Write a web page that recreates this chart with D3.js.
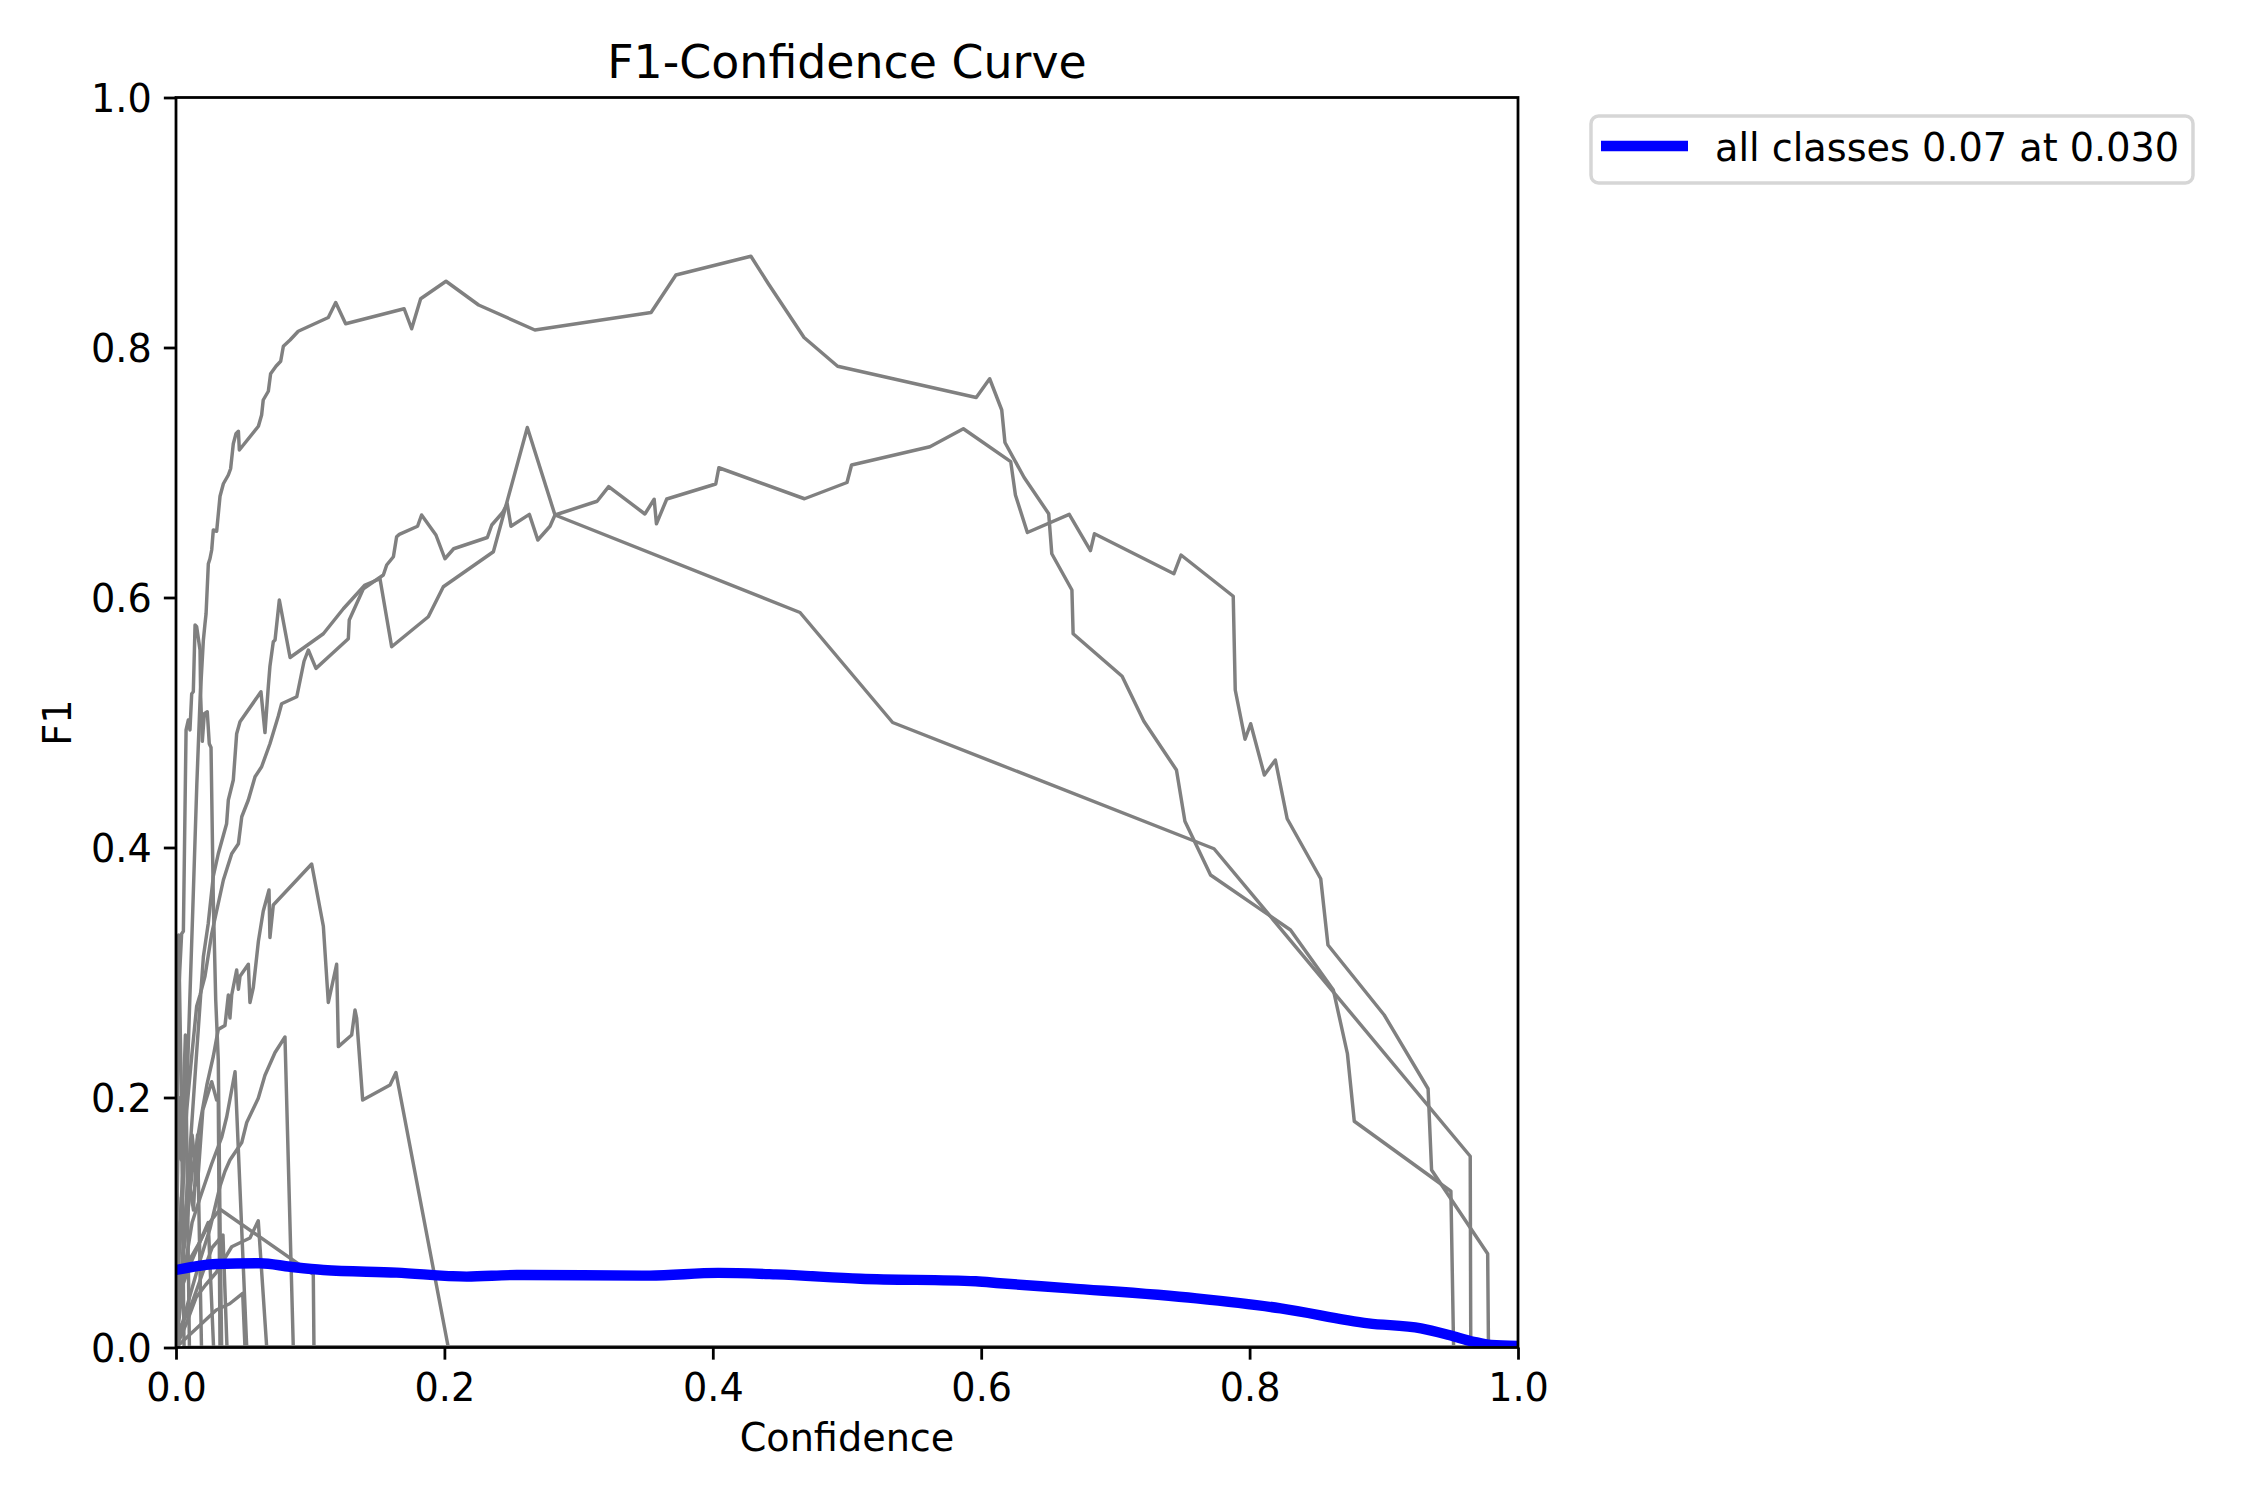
<!DOCTYPE html>
<html><head><meta charset="utf-8">
<script src="https://cdn.jsdelivr.net/npm/d3@7"></script>
<style>
body{margin:0;background:#fff}
svg{display:block}
text{font-family:"DejaVu Sans",sans-serif;fill:#000}
</style>
</head><body>
<svg id="chart" width="2250" height="1500"></svg>
<script>
// ---------------- data ----------------
const xTicks = [0, 0.2, 0.4, 0.6, 0.8, 1.0];
const yTicks = [0, 0.2, 0.4, 0.6, 0.8, 1.0];
const titleText = "F1-Confidence Curve";
const xLabelText = "Confidence";
const yLabelText = "F1";
const legendLabel = "all classes 0.07 at 0.030";

// per-class curves: [confidence, F1]
const classA = [[0,0.05],[0.005,0.12],[0.0085,0.22],[0.0125,0.35],[0.0155,0.45],[0.018,0.52],[0.0204,0.566],[0.0216,0.579],[0.0224,0.587],[0.0241,0.627],[0.0253,0.631],[0.0266,0.638],[0.0278,0.654],[0.0303,0.653],[0.0328,0.681],[0.0353,0.691],[0.039,0.698],[0.0407,0.703],[0.0427,0.723],[0.0447,0.731],[0.0465,0.733],[0.0472,0.718],[0.0614,0.737],[0.0638,0.746],[0.065,0.758],[0.0688,0.765],[0.0705,0.779],[0.0745,0.785],[0.078,0.789],[0.080,0.801],[0.085,0.806],[0.0911,0.813],[0.1135,0.824],[0.119,0.836],[0.1264,0.819],[0.170,0.831],[0.1756,0.815],[0.1823,0.839],[0.2012,0.853],[0.2255,0.834],[0.2674,0.814],[0.354,0.828],[0.3725,0.858],[0.4284,0.873],[0.4414,0.851],[0.468,0.808],[0.493,0.785],[0.5963,0.760],[0.6063,0.775],[0.6153,0.750],[0.6177,0.724],[0.632,0.696],[0.6503,0.667],[0.6526,0.635],[0.6676,0.606],[0.6685,0.571],[0.705,0.537],[0.7212,0.501],[0.7455,0.462],[0.7518,0.421],[0.7709,0.378],[0.8305,0.334],[0.8624,0.286],[0.8729,0.235],[0.878,0.181],[0.95,0.125],[0.952,0],[1,0]];
const classB = [[0,0.0],[0.008,0.12],[0.015,0.23],[0.0204,0.3126],[0.024,0.339],[0.0278,0.377],[0.0315,0.395],[0.0377,0.419],[0.039,0.438],[0.0427,0.454],[0.0452,0.491],[0.0477,0.5006],[0.0633,0.5246],[0.0663,0.492],[0.0688,0.529],[0.07,0.545],[0.0725,0.5646],[0.0738,0.566],[0.077,0.598],[0.085,0.552],[0.1098,0.571],[0.1247,0.591],[0.1408,0.61],[0.152,0.615],[0.1607,0.5606],[0.188,0.5846],[0.1992,0.6086],[0.2365,0.6366],[0.2618,0.736],[0.2824,0.666],[0.465,0.588],[0.534,0.5],[0.7735,0.399],[0.9644,0.153],[0.9648,0],[1,0]];
const classC = [[0,0.02],[0.004,0.12],[0.008,0.19],[0.0117,0.233],[0.0154,0.273],[0.0179,0.282],[0.0216,0.297],[0.0266,0.331],[0.0353,0.374],[0.0415,0.395],[0.0465,0.403],[0.049,0.4246],[0.0539,0.438],[0.0589,0.4566],[0.0638,0.4646],[0.07,0.483],[0.0762,0.505],[0.0787,0.515],[0.09,0.5206],[0.0954,0.549],[0.0986,0.558],[0.1043,0.5433],[0.116,0.5548],[0.1284,0.567],[0.1291,0.582],[0.1396,0.607],[0.1545,0.618],[0.157,0.626],[0.162,0.6326],[0.1644,0.6486],[0.1664,0.6505],[0.180,0.657],[0.183,0.666],[0.1937,0.65],[0.2004,0.631],[0.2069,0.639],[0.232,0.648],[0.2353,0.658],[0.2434,0.668],[0.2468,0.675],[0.2496,0.657],[0.2633,0.6665],[0.2696,0.646],[0.2787,0.657],[0.2824,0.666],[0.3138,0.677],[0.3224,0.6887],[0.3494,0.6668],[0.3563,0.6786],[0.358,0.659],[0.3657,0.6788],[0.4022,0.6908],[0.4045,0.7038],[0.4683,0.679],[0.5,0.692],[0.5034,0.706],[0.5618,0.7206],[0.5867,0.735],[0.622,0.7087],[0.6255,0.682],[0.6344,0.652],[0.6656,0.6665],[0.6814,0.6375],[0.6844,0.651],[0.7436,0.619],[0.7489,0.634],[0.7878,0.601],[0.7893,0.526],[0.7966,0.4866],[0.8008,0.499],[0.811,0.458],[0.8192,0.47],[0.828,0.423],[0.853,0.375],[0.8584,0.322],[0.9003,0.266],[0.933,0.207],[0.9356,0.142],[0.9774,0.075],[0.978,0],[1,0]];
const classE = [[0,0.05],[0.0017,0.278],[0.0042,0.331],[0.0055,0.333],[0.0075,0.494],[0.0092,0.502],[0.0104,0.494],[0.0117,0.523],[0.0129,0.5246],[0.0142,0.578],[0.0154,0.5766],[0.0179,0.558],[0.0184,0.52],[0.0196,0.485],[0.0211,0.507],[0.0233,0.5086],[0.0248,0.483],[0.0261,0.48],[0.0278,0.358],[0.0296,0.278],[0.0315,0.23],[0.0328,0.1],[0.034,0],[1,0]];
const classF = [[0,0.0],[0.006,0.08],[0.012,0.14],[0.018,0.18],[0.023,0.21],[0.0278,0.233],[0.0315,0.2545],[0.0365,0.2576],[0.039,0.282],[0.0402,0.2636],[0.0415,0.282],[0.0452,0.302],[0.0465,0.2866],[0.0477,0.297],[0.0539,0.3066],[0.0551,0.276],[0.0576,0.288],[0.0614,0.325],[0.065,0.349],[0.0693,0.366],[0.07,0.328],[0.0725,0.354],[0.1011,0.3868],[0.1098,0.337],[0.1135,0.276],[0.1197,0.3066],[0.121,0.2407],[0.1309,0.25],[0.1334,0.27],[0.1346,0.2636],[0.1391,0.198],[0.1595,0.21],[0.1639,0.22],[0.2029,0],[1,0]];
const classG = [[0,0],[0.005,0.02],[0.01,0.04],[0.018,0.07],[0.0253,0.095],[0.0328,0.129],[0.0365,0.141],[0.0402,0.15],[0.049,0.164],[0.0527,0.18],[0.0613,0.1994],[0.0663,0.2178],[0.0738,0.236],[0.0812,0.2484],[0.0874,0],[1,0]];
const classH = [[0,0],[0.008,0.02],[0.015,0.04],[0.022,0.05],[0.03,0.06],[0.0378,0.074],[0.0415,0.0806],[0.0551,0.0876],[0.0613,0.1014],[0.0676,0],[1,0]];
const classI = [[0,0.0],[0.004,0.05],[0.01,0.07],[0.018,0.085],[0.025,0.1],[0.0328,0.1106],[0.1023,0.0586],[0.1028,0],[1,0]];
const classJ = [[0,0],[0.01,0.01],[0.02,0.02],[0.03,0.03],[0.04,0.035],[0.0497,0.0433],[0.0514,0],[1,0]];
const classK = [[0,0.02],[0.004,0.12],[0.008,0.09],[0.012,0.17],[0.016,0.13],[0.02,0.19],[0.0266,0.2126],[0.0303,0.198],[0.0315,0.2],[0.0328,0],[1,0]];
const classL = [[0,0.0],[0.006,0.06],[0.012,0.1],[0.018,0.12],[0.0266,0.147],[0.034,0.168],[0.0378,0.1846],[0.044,0.2206],[0.0527,0],[1,0]];
const classN = [[0,0.05],[0.002,0.2],[0.004,0.15],[0.007,0.25],[0.01,0.0],[1,0]];
const classO = [[0,0.03],[0.003,0.1],[0.006,0.08],[0.009,0.14],[0.013,0.11],[0.016,0.17],[0.019,0.0],[1,0]];
const classP = [[0,0.02],[0.005,0.05],[0.012,0.07],[0.02,0.09],[0.024,0.1],[0.028,0.0],[1,0]];
const classQ = [[0,0.01],[0.01,0.03],[0.02,0.06],[0.027,0.08],[0.035,0.09],[0.038,0],[1,0]];
const classR = [[0,0.1],[0.002,0.33],[0.004,0.2],[0.006,0.0],[1,0]];

// mean over all classes
const meanCurve = [[0,0.062],[0.0303,0.0668],[0.0626,0.0674],[0.085,0.0646],[0.1098,0.062],[0.1644,0.0599],[0.2166,0.0567],[0.2539,0.058],[0.353,0.0575],[0.404,0.0597],[0.447,0.0585],[0.51,0.055],[0.596,0.053],[0.614,0.0514],[0.6663,0.0473],[0.7604,0.0393],[0.8232,0.0313],[0.8885,0.0193],[0.9277,0.0153],[0.9486,0.01],[0.967,0.0046],[0.98,0.002],[1.0,0.0012]];

const classCurves = [classA, classB, classC, classE, classF, classG, classH, classI, classJ, classK, classL, classN, classO, classP, classQ, classR];

// ---------------- drawing ----------------
const dpiScale = 250 / 72; // px per pt
const fontSmall = 11 * dpiScale;        // base font 11pt
const fontLarge = 11 * 1.2 * dpiScale;  // title 'large'
const plot = {left: 176, right: 1518, top: 97.5, bottom: 1347.5};

const svg = d3.select("#chart");
svg.append("rect").attr("width", 2250).attr("height", 1500).attr("fill", "#fff");

const x = d3.scaleLinear().domain([0, 1]).range([plot.left, plot.right]);
const y = d3.scaleLinear().domain([0, 1]).range([plot.bottom, plot.top]);

svg.append("defs").append("clipPath").attr("id", "clip")
  .append("rect").attr("x", plot.left).attr("y", plot.top)
  .attr("width", plot.right - plot.left).attr("height", plot.bottom - plot.top);

const line = d3.line().x(d => x(d[0])).y(d => y(d[1]));
const gLines = svg.append("g").attr("clip-path", "url(#clip)");

gLines.selectAll("path.cls").data(classCurves).join("path")
  .attr("class", "cls")
  .attr("d", line)
  .attr("fill", "none")
  .attr("stroke", "#808080")
  .attr("stroke-width", 1 * dpiScale)
  .attr("stroke-linejoin", "round");

const meanLine = d3.line().x(d => x(d[0])).y(d => y(d[1])).curve(d3.curveMonotoneX);
gLines.append("path")
  .attr("d", meanLine(meanCurve))
  .attr("fill", "none")
  .attr("stroke", "#0000ff")
  .attr("stroke-width", 3 * dpiScale)
  .attr("stroke-linejoin", "round");

// axes
const tickLen = 3.5 * dpiScale, tickPad = 3.5 * dpiScale, axW = 0.8 * dpiScale;
const xAxis = d3.axisBottom(x).tickValues(xTicks).tickFormat(d3.format(".1f"))
  .tickSize(tickLen).tickPadding(tickPad).tickSizeOuter(0);
const yAxis = d3.axisLeft(y).tickValues(yTicks).tickFormat(d3.format(".1f"))
  .tickSize(tickLen).tickPadding(tickPad).tickSizeOuter(0);

const gx = svg.append("g").attr("transform", `translate(0,${plot.bottom})`).call(xAxis);
const gy = svg.append("g").attr("transform", `translate(${plot.left},0)`).call(yAxis);
[gx, gy].forEach(g => {
  g.select(".domain").remove();
  g.selectAll(".tick line").attr("stroke", "#000").attr("stroke-width", axW);
  g.selectAll(".tick text").attr("font-size", fontSmall)
    .attr("font-family", "DejaVu Sans, sans-serif").attr("fill", "#000");
});
gx.selectAll(".tick text").attr("dy", "0.77em");
gy.selectAll(".tick text").attr("dy", "0.36em");

// spines
svg.append("rect")
  .attr("x", plot.left).attr("y", plot.top)
  .attr("width", plot.right - plot.left).attr("height", plot.bottom - plot.top)
  .attr("fill", "none").attr("stroke", "#000").attr("stroke-width", axW);

// title and labels
svg.append("text").attr("x", (plot.left + plot.right) / 2).attr("y", 77.5)
  .attr("text-anchor", "middle").attr("font-size", fontLarge).text(titleText);
svg.append("text").attr("x", (plot.left + plot.right) / 2).attr("y", 1451)
  .attr("text-anchor", "middle").attr("font-size", fontSmall).text(xLabelText);
svg.append("text").attr("transform", `translate(71,${(plot.top + plot.bottom) / 2}) rotate(-90)`)
  .attr("text-anchor", "middle").attr("font-size", fontSmall).text(yLabelText);

// legend
const lg = svg.append("g");
lg.append("rect").attr("x", 1591).attr("y", 116).attr("width", 602).attr("height", 67)
  .attr("rx", 0.2 * fontSmall).attr("ry", 0.2 * fontSmall)
  .attr("fill", "#fff").attr("fill-opacity", 0.8)
  .attr("stroke", "#cccccc").attr("stroke-opacity", 0.8).attr("stroke-width", 1 * dpiScale);
lg.append("line").attr("x1", 1601).attr("x2", 1688).attr("y1", 146).attr("y2", 146)
  .attr("stroke", "#0000ff").attr("stroke-width", 3 * dpiScale);
lg.append("text").attr("x", 1715).attr("y", 161).attr("font-size", fontSmall).text(legendLabel);
</script>
</body></html>
